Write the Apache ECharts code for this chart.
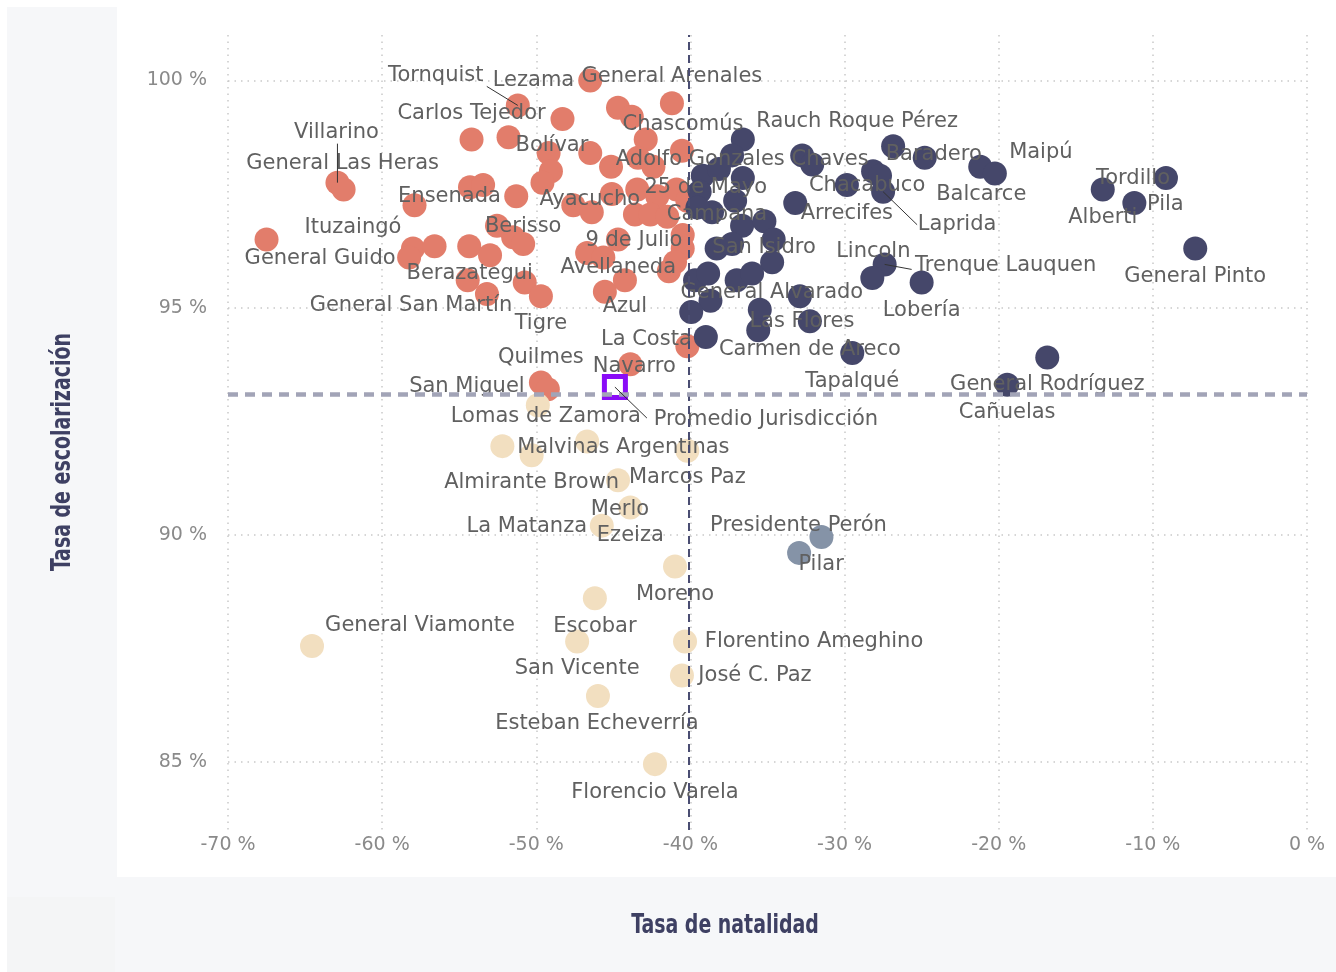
<!DOCTYPE html>
<html>
<head>
<meta charset="utf-8">
<script src="https://cdn.jsdelivr.net/npm/echarts@6/dist/echarts.min.js"></script>
<style>
  html, body { margin: 0; padding: 0; background: #fff; }
  #chart { width: 1336px; height: 972px; }
</style>
</head>
<body>
<div id="chart"></div>
<script>
// [tasa de natalidad %, tasa de escolarización %, partido]
var arribaIzquierda = [
    [-46.5, 100.0, ''], [-41.2, 99.5, 'General Arenales'], [-44.7, 99.4, ''], [-43.8, 99.2, ''],
    [-51.2, 99.45, 'Tornquist'], [-48.3, 99.15, 'Lezama'], [-54.2, 98.7, 'Carlos Tejedor'],
    [-51.8, 98.75, ''], [-42.9, 98.7, ''], [-40.55, 98.45, 'Chascomús'],
    [-46.5, 98.4, 'Adolfo Gonzales Chaves'], [-49.2, 98.4, ''], [-49.05, 98.0, 'Bolívar'],
    [-49.6, 97.75, ''], [-45.15, 98.1, ''], [-43.4, 98.3, ''], [-42.4, 98.1, ''],
    [-62.9, 97.75, 'Villarino'], [-62.5, 97.6, 'General Las Heras'], [-54.3, 97.65, ''],
    [-53.45, 97.7, ''], [-51.3, 97.45, ''], [-57.9, 97.25, 'Ensenada'], [-47.6, 97.25, ''],
    [-46.4, 97.1, 'Ayacucho'], [-45.1, 97.5, ''], [-43.45, 97.6, ''], [-42.15, 97.45, ''],
    [-40.9, 97.6, ''], [-40.2, 97.35, ''], [-43.6, 97.05, ''], [-42.6, 97.05, ''],
    [-41.5, 97.0, ''], [-67.5, 96.5, ''], [-58.0, 96.3, 'Ituzaingó'], [-58.25, 96.1, 'General Guido'],
    [-56.6, 96.35, ''], [-54.35, 96.35, ''], [-53.0, 96.15, ''], [-52.55, 96.8, ''],
    [-51.5, 96.55, ''], [-50.85, 96.4, 'Berisso'], [-54.45, 95.6, 'Berazategui'],
    [-53.2, 95.3, 'General San Martín'], [-50.75, 95.55, ''], [-49.7, 95.25, 'Tigre'],
    [-46.7, 96.2, ''], [-45.65, 96.1, 'Avellaneda'], [-44.7, 96.5, '9 de Julio'],
    [-40.5, 96.6, ''], [-40.5, 96.3, ''], [-41.0, 96.0, ''], [-41.4, 95.8, ''],
    [-44.25, 95.6, 'Azul'], [-45.55, 95.35, ''], [-40.2, 94.15, 'La Costa'],
    [-43.9, 93.75, 'Navarro'], [-49.7, 93.35, 'San Miguel'], [-49.25, 93.2, 'Quilmes']
];
var arribaDerecha = [
    [-36.6, 98.7, 'Rauch'], [-37.3, 98.35, ''], [-39.2, 97.9, '25 de Mayo'], [-38.15, 98.05, ''],
    [-36.6, 97.85, ''], [-39.4, 97.55, ''], [-37.1, 97.35, ''], [-38.6, 97.1, 'Campana'],
    [-39.55, 97.2, ''], [-36.65, 96.8, ''], [-35.2, 96.9, ''], [-34.6, 96.5, ''],
    [-38.3, 96.3, ''], [-37.3, 96.4, 'San Isidro'], [-34.7, 96.0, ''], [-39.7, 95.6, ''],
    [-38.85, 95.75, ''], [-37.0, 95.6, ''], [-36.0, 95.75, ''], [-38.7, 95.15, ''],
    [-39.95, 94.9, ''], [-35.5, 94.95, ''], [-35.6, 94.5, ''], [-39.0, 94.35, 'Carmen de Areco'],
    [-33.2, 97.3, ''], [-32.75, 98.35, ''], [-32.1, 98.15, ''], [-29.85, 97.7, 'Arrecifes'],
    [-28.15, 98.0, 'Chacabuco'], [-27.7, 97.9, ''], [-27.5, 97.55, 'Laprida'],
    [-26.85, 98.55, 'Roque Pérez'], [-24.8, 98.3, 'Baradero'], [-21.2, 98.1, 'Balcarce'],
    [-20.25, 97.95, 'Maipú'], [-13.25, 97.6, 'Alberti'], [-11.2, 97.3, 'Pila'],
    [-9.15, 97.85, 'Tordillo'], [-7.25, 96.3, 'General Pinto'], [-27.4, 95.95, 'Trenque Lauquen'],
    [-28.2, 95.65, 'Lincoln'], [-25.0, 95.55, 'Lobería'], [-32.9, 95.25, 'General Alvarado'],
    [-32.25, 94.7, 'Las Flores'], [-29.5, 94.0, 'Tapalqué'], [-16.85, 93.9, 'General Rodríguez'],
    [-19.45, 93.3, 'Cañuelas']
];
var abajoIzquierda = [
    [-49.9, 92.85, 'Lomas de Zamora'], [-52.2, 91.95, 'Malvinas Argentinas'],
    [-50.3, 91.75, 'Almirante Brown'], [-46.7, 92.05, ''], [-40.2, 91.85, 'Marcos Paz'],
    [-44.7, 91.2, 'Merlo'], [-43.9, 90.6, 'Ezeiza'], [-45.75, 90.2, 'La Matanza'],
    [-41.0, 89.3, 'Moreno'], [-46.2, 88.6, 'Escobar'], [-64.55, 87.55, 'General Viamonte'],
    [-47.35, 87.65, 'San Vicente'], [-40.35, 87.65, 'Florentino Ameghino'],
    [-40.55, 86.9, 'José C. Paz'], [-46.0, 86.45, 'Esteban Echeverría'],
    [-42.3, 84.95, 'Florencio Varela']
];
var abajoDerecha = [
    [-31.5, 89.95, 'Presidente Perón'], [-32.95, 89.6, 'Pilar']
];
var promedio = [[-44.9, 93.25, 'Promedio Jurisdicción']];
var mediaNatalidad = -40.1;
var mediaEscolarizacion = 93.1;

// desplazamiento de cada etiqueta respecto de su punto (px)
var labelOffsets = {
    'General Arenales': [0, -27], 'Tornquist': [-82, -30], 'Lezama': [-29, -38],
    'Carlos Tejedor': [0, -26], 'Chascomús': [1, -26], 'Adolfo Gonzales Chaves': [152, 6],
    'Bolívar': [1, -26], 'Villarino': [-1, -50], 'General Las Heras': [-1, -26],
    'Ensenada': [35, -9], 'Ayacucho': [-2, -13], 'Ituzaingó': [-60, -21],
    'General Guido': [-89, 1], 'Berisso': [0, -17], 'Berazategui': [2, -7],
    'General San Martín': [-76, 12], 'Tigre': [0, 27], 'Avellaneda': [15, 10],
    '9 de Julio': [16, 1], 'Azul': [0, 26], 'La Costa': [-41, -7], 'Navarro': [4, 2],
    'San Miguel': [-74, 4], 'Quilmes': [-7, -32],
    'Rauch': [46, -18], '25 de Mayo': [3, 12], 'Campana': [5, 2], 'San Isidro': [32, 4],
    'Carmen de Areco': [104, 12], 'Arrecifes': [0, 29], 'Chacabuco': [-6, 14],
    'Laprida': [74, 33], 'Roque Pérez': [0, -25], 'Baradero': [9, -3], 'Balcarce': [1, 28],
    'Maipú': [46, -21], 'Alberti': [0, 28], 'Pila': [31, 1], 'Tordillo': [-33, 0],
    'General Pinto': [0, 28], 'Trenque Lauquen': [121, 1], 'Lincoln': [1, -26],
    'Lobería': [0, 28], 'General Alvarado': [-28, -4], 'Las Flores': [-8, 0],
    'Tapalqué': [0, 29], 'General Rodríguez': [0, 27], 'Cañuelas': [0, 28],
    'Lomas de Zamora': [8, 11], 'Malvinas Argentinas': [121, 1], 'Almirante Brown': [0, 27],
    'Marcos Paz': [0, 27], 'Merlo': [2, 29], 'Ezeiza': [0, 28], 'La Matanza': [-75, 1],
    'Moreno': [0, 28], 'Escobar': [0, 28], 'General Viamonte': [108, -20],
    'San Vicente': [0, 27], 'Florentino Ameghino': [129, 0], 'José C. Paz': [73, 0],
    'Esteban Echeverría': [-1, 28], 'Florencio Varela': [0, 28],
    'Presidente Perón': [-23, -11], 'Pilar': [22, 12], 'Promedio Jurisdicción': [151, 32]
};
// extremo de la línea guía respecto del punto (px)
var leaderEnds = {
    'Tornquist': [-31, -19], 'Villarino': [0, -39], 'Laprida': [34, 33],
    'Trenque Lauquen': [27, 5], 'Promedio Jurisdicción': [32, 31]
};

var labelFont = 'DejaVu Sans';
var titleFont = 'bold 26px "Liberation Sans Narrow", "DejaVu Sans Condensed", sans-serif';

function toItems(rows) {
    return rows.map(function (r) {
        var item = { value: [r[0], r[1]], name: r[2] };
        if (r[2]) {
            item.label = { show: true, offset: labelOffsets[r[2]] || [0, 0] };
        } else {
            item.label = { show: false };
        }
        return item;
    });
}

function puntos(rows, color) {
    return {
        type: 'scatter',
        data: toItems(rows),
        symbolSize: 24,
        itemStyle: { color: color, opacity: 1 },
        label: {
            show: true,
            position: 'inside',
            formatter: '{b}',
            color: '#606060',
            textBorderWidth: 0,
            textBorderColor: 'transparent',
            fontFamily: labelFont,
            fontSize: 21
        },
        emphasis: { disabled: true },
        z: 2
    };
}

var conLinea = arribaIzquierda.concat(arribaDerecha, abajoIzquierda, abajoDerecha, promedio)
    .filter(function (r) { return leaderEnds[r[2]]; });

var chart = echarts.init(document.getElementById('chart'));

var option = {
    animation: false,
    graphic: [
        { type: 'rect', shape: { x: 7, y: 7, width: 110, height: 890 }, style: { fill: '#f6f7f9' } },
        { type: 'rect', shape: { x: 7, y: 897, width: 108, height: 75 }, style: { fill: '#f4f5f6' } },
        { type: 'rect', shape: { x: 115, y: 877, width: 1221, height: 95 }, style: { fill: '#f6f7f9' } },
        {
            type: 'text', x: 725, y: 926, scaleX: 0.81,
            style: {
                text: 'Tasa de natalidad', fill: '#3e4063', align: 'center', verticalAlign: 'middle',
                font: titleFont
            }
        },
        {
            type: 'text', x: 63, y: 452, rotation: Math.PI / 2, scaleX: 0.81,
            style: {
                text: 'Tasa de escolarización', fill: '#3e4063', align: 'center', verticalAlign: 'middle',
                font: titleFont
            }
        }
    ],
    grid: { left: 228, right: 29, top: 35, bottom: 142 },
    xAxis: {
        type: 'value',
        min: -70,
        max: 0,
        interval: 10,
        axisLine: { show: false },
        axisTick: { show: false },
        axisLabel: {
            formatter: '{value} %',
            color: '#8a8a8a',
            fontFamily: labelFont,
            fontSize: 19,
            margin: 6
        },
        splitLine: { show: true, lineStyle: { color: '#c9c9c9', width: 1.5, type: [1.5, 5] } }
    },
    yAxis: {
        type: 'value',
        min: 83.5,
        max: 101,
        splitNumber: 4,
        axisLine: { show: false },
        axisTick: { show: false },
        axisLabel: {
            formatter: '{value} %',
            color: '#8a8a8a',
            fontFamily: labelFont,
            fontSize: 19,
            margin: 21,
            showMinLabel: false,
            showMaxLabel: false
        },
        splitLine: {
            show: true,
            showMinLine: false,
            showMaxLine: false,
            lineStyle: { color: '#c9c9c9', width: 1.5, type: [1.5, 5] }
        }
    },
    series: [
        puntos(arribaIzquierda, '#e27d6b'),
        puntos(arribaDerecha, '#45476a'),
        puntos(abajoIzquierda, '#f2dfc0'),
        puntos(abajoDerecha, '#8593a7'),
        {
            type: 'scatter',
            data: [],
            z: 3,
            markLine: {
                silent: true,
                symbol: ['none', 'none'],
                label: { show: false },
                animation: false,
                data: [
                    { xAxis: mediaNatalidad, lineStyle: { color: '#4a4d72', width: 2, type: [8, 5] } },
                    { yAxis: mediaEscolarizacion, lineStyle: { color: '#a2a4b7', width: 4.5, type: [10, 7] } }
                ]
            }
        },
        Object.assign(puntos(promedio, '#ffffff'), {
            symbol: 'rect',
            symbolSize: 21,
            itemStyle: { color: '#ffffff', borderColor: '#8a0cf7', borderWidth: 5, opacity: 1 },
            z: 4
        }),
        {
            type: 'custom',
            z: 5,
            silent: true,
            data: conLinea.map(function (r) { return { value: [r[0], r[1]], name: r[2] }; }),
            renderItem: function (params, api) {
                var p = api.coord([api.value(0), api.value(1)]);
                var end = leaderEnds[conLinea[params.dataIndex][2]];
                return {
                    type: 'line',
                    shape: { x1: p[0], y1: p[1], x2: p[0] + end[0], y2: p[1] + end[1] },
                    style: { stroke: '#333', lineWidth: 1 }
                };
            }
        }
    ]
};

chart.setOption(option);
</script>
</body>
</html>
